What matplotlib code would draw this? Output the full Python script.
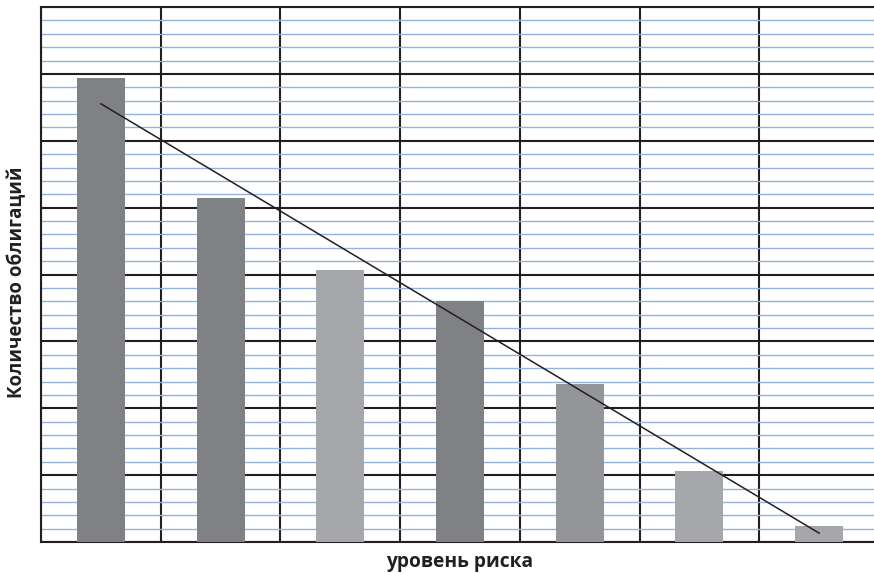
import numpy as np
import matplotlib.pyplot as plt
from matplotlib.ticker import MultipleLocator

# risk levels 1..7, number of bonds per level
levels = [1, 2, 3, 4, 5, 6, 7]
bonds = [34.7, 25.7, 20.3, 18.0, 11.8, 5.3, 1.2]
bar_colors = ['#808184', '#808184', '#a6a7aa', '#808184', '#939598', '#a6a7aa', '#a6a7aa']

plt.rcParams['font.family'] = ['Open Sans', 'DejaVu Sans']

fig = plt.figure(figsize=(8.74, 5.73), dpi=100)
ax = fig.add_axes([41 / 874, 31 / 573, 838 / 874, 535 / 573])

x = np.arange(len(levels))
ax.bar(x, bonds, width=0.4, color=bar_colors, zorder=3)

# linear trend over the bars
k, b = np.polyfit(x, bonds, 1)
ax.plot(x, k * x + b, color='#231f20', lw=1.1, zorder=4)

ax.set_xlim(-0.5, len(levels) - 0.5)
ax.set_ylim(0, 40)
ax.xaxis.set_major_locator(plt.FixedLocator(np.arange(-0.5, len(levels), 1)))
ax.yaxis.set_major_locator(MultipleLocator(5))
ax.yaxis.set_minor_locator(MultipleLocator(1))
ax.grid(which='minor', axis='y', color='#94b3dc', lw=1.0, zorder=1)
ax.grid(which='major', axis='both', color='#231f20', lw=1.5, zorder=2)
ax.set_axisbelow(True)
ax.tick_params(which='both', length=0, labelleft=False, labelbottom=False)
for side in ['left', 'bottom', 'top']:
    ax.spines[side].set_color('#231f20')
    ax.spines[side].set_linewidth(1.5)
ax.spines['right'].set_visible(False)

ax.set_xlabel('уровень риска', fontsize=13.8, fontweight='bold', color='#231f20', labelpad=7)
ax.set_ylabel('Количество облигаций', fontsize=13.5, fontweight='bold', color='#231f20')
ax.yaxis.set_label_coords(-0.016, 0.486)

fig.savefig('out.png', dpi=100)
